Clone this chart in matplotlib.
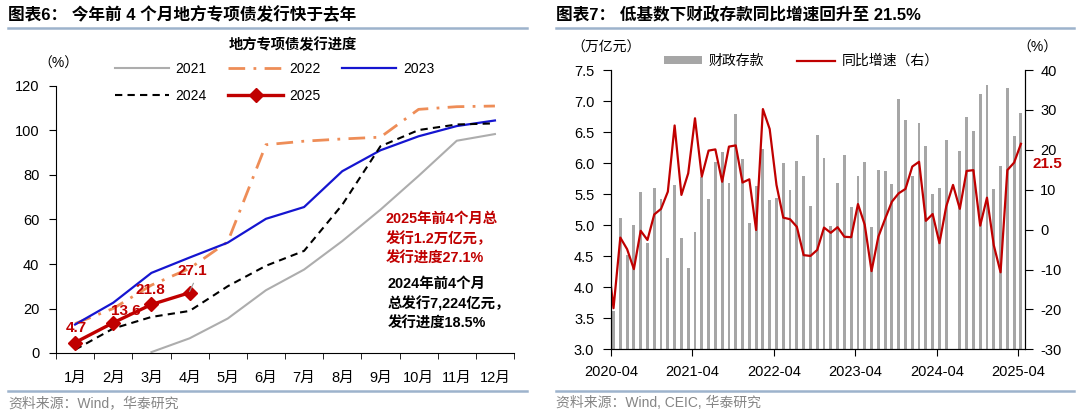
import numpy as np
import matplotlib
matplotlib.use("Agg")
import matplotlib.pyplot as plt

plt.rcParams['font.family'] = ['Liberation Sans', 'Noto Sans CJK SC', 'DejaVu Sans']
plt.rcParams['axes.unicode_minus'] = False

# ---- left chart: 地方专项债发行进度 (%)
months = ['1月', '2月', '3月', '4月', '5月', '6月', '7月', '8月', '9月', '10月', '11月', '12月']
y2021 = [np.nan, np.nan, 0.4, 6.6, 15.5, 28.2, 37.5, 50.3, 64.4, 79.6, 95.4, 98.4]
y2022 = [13.2, 20.0, 30.5, 38.0, 50.0, 93.6, 95.2, 96.2, 97.0, 109.5, 110.7, 111.0]
y2023 = [12.8, 22.6, 36.0, 42.9, 49.6, 60.3, 65.6, 81.7, 91.1, 97.4, 102.0, 104.5]
y2024 = [1.5, 11.0, 16.2, 18.9, 30.0, 39.2, 45.9, 66.6, 92.9, 100.2, 102.7, 103.2]
y2025 = [4.7, 13.6, 21.8, 27.1]
lbl_off = [(1, 10.5), (9, 8.5), (-1, 10.5), (2, 15.5)]

# ---- right chart: 财政存款 (万亿元) & 同比增速 (%), 2020-04 .. 2025-04
deposits = [3.62, 5.12, 4.52, 5.00, 5.54, 4.72, 5.60, 5.42, 4.47, 5.65, 4.80, 4.31,
            4.89, 5.78, 5.42, 6.01, 6.18, 5.68, 6.79, 6.07, 5.03, 5.63, 6.23, 5.40,
            5.43, 6.00, 5.56, 6.04, 5.79, 5.31, 6.45, 6.08, 4.99, 5.68, 6.13, 5.29,
            5.79, 6.02, 4.97, 5.89, 5.88, 5.66, 7.03, 6.69, 5.79, 6.64, 6.27, 5.50,
            5.60, 6.37, np.nan, 6.19, 6.74, 6.51, 7.11, 7.26, 5.58, 5.95, 7.21, 6.44,
            6.80]
# growth starts one month earlier (2020-03), that point sits left of the axis
growth = [-5.0,
          -19.7, -2.0, -4.9, -9.9, -0.3, -2.6, 3.8, 5.2, 9.5, 26.1, 8.7, 14.1,
          27.9, 13.3, 19.8, 20.1, 12.0, 20.8, 21.1, 11.8, 12.6, -0.1, 30.2, 25.2,
          11.2, 3.0, 2.6, 0.7, -6.4, -6.6, -5.1, 0.5, -0.8, 0.6, -1.8, -1.9,
          6.4, 1.2, -10.4, -1.8, 2.7, 7.0, 9.1, 10.2, 15.8, 17.0, 2.2, 3.9,
          -3.4, 5.8, 11.2, 5.2, 14.7, 14.9, 1.0, 8.0, -3.9, -10.7, 14.9, 16.8,
          21.5]
date_labels = ['2020-04', '2021-04', '2022-04', '2023-04', '2024-04', '2025-04']

fig = plt.figure(figsize=(10.8, 4.12), dpi=100)

sep = '#9DB3CC'
red = '#C00000'
fs = 10.5

# titles, separators, sources
fig.text(8 / 1080, 1 - 15 / 412, '图表6： 今年前 4 个月地方专项债发行快于去年',
         fontsize=12, fontweight='bold', va='center', ha='left')
fig.text(556 / 1080, 1 - 15 / 412, '图表7： 低基数下财政存款同比增速回升至 21.5%',
         fontsize=12, fontweight='bold', va='center', ha='left')
for x0, x1 in [(8, 527), (556, 1074)]:
    for yy in (28, 391):
        fig.add_artist(plt.Line2D([x0 / 1080, x1 / 1080], [1 - yy / 412] * 2,
                                  color=sep, lw=1.8))
fig.text(8 / 1080, 1 - 403 / 412, '资料来源：Wind，华泰研究', fontsize=10,
         color='#858585', va='center')
fig.text(556 / 1080, 1 - 403 / 412, '资料来源：Wind, CEIC, 华泰研究', fontsize=10,
         color='#858585', va='center')

# ---------------- left chart ----------------
ax = fig.add_axes([56 / 1080, 59 / 412, 458 / 1080, 267 / 412])
x = np.arange(1, 13)
ax.plot(x, y2021, color='#ADADAD', lw=1.5, label='2021')
ax.plot(x, y2022, color='#EE8D57', lw=2.0, dashes=(6, 3, 1, 3), label='2022')
ax.plot(x, y2023, color='#1515D0', lw=1.6, label='2023')
ax.plot(x, y2024, color='black', lw=1.5, dashes=(3.5, 2.5), label='2024')
ax.plot(x[:len(y2025)], y2025, color=red, lw=2.4, marker='D', ms=7, label='2025')
for i, (v, off) in enumerate(zip(y2025, lbl_off)):
    ax.annotate(f'{v}', (x[i], v), xytext=off, textcoords='offset points',
                ha='center', va='center', color=red, fontsize=11, fontweight='bold')
ax.plot([x[3], x[3] + 0.1], [y2025[3] + 0.6, y2025[3] + 4.2], color='#999999', lw=0.8)

ax.set_xlim(0.5, 12.5)
ax.set_ylim(0, 120)
ax.set_yticks(range(0, 121, 20))
ax.set_xticks(x)
ax.set_xticklabels(months)
ax.set_xticks(np.arange(0.5, 12.6, 1), minor=True)
ax.tick_params(axis='x', which='major', length=0, pad=13, labelsize=fs)
ax.tick_params(axis='x', which='minor', length=4, direction='out')
ax.tick_params(axis='y', length=5, direction='out', pad=7, labelsize=fs)
for s in ('top', 'right'):
    ax.spines[s].set_visible(False)

fig.text(293 / 1080, 1 - 45 / 412, '地方专项债发行进度', fontsize=10.3,
         fontweight='bold', ha='center', va='center')
fig.text(58 / 1080, 1 - 64 / 412, '（%）', fontsize=10, ha='center', va='center')

h, l = ax.get_legend_handles_labels()
order = [0, 3, 1, 4, 2]
fig.legend([h[i] for i in order], [l[i] for i in order], ncol=3,
           loc='upper left', bbox_to_anchor=(115 / 1080, 1 - 62 / 412),
           frameon=False, fontsize=10, handlelength=3.9, handletextpad=0.47,
           columnspacing=1.55, labelspacing=0.95, borderpad=0, borderaxespad=0)

ax.text(386 / 1080, 1 - 212 / 412,
        '2025年前4个月总\n发行1.2万亿元，\n发行进度27.1%',
        transform=fig.transFigure, color=red, fontsize=10.4, fontweight='bold',
        va='top', ha='left', linespacing=1.45)
ax.text(388 / 1080, 1 - 277 / 412,
        '2024年前4个月\n总发行7,224亿元，\n发行进度18.5%',
        transform=fig.transFigure, color='black', fontsize=10.4, fontweight='bold',
        va='top', ha='left', linespacing=1.45)

# ---------------- right chart ----------------
bx = fig.add_axes([611 / 1080, 62.7 / 412, 414 / 1080, 279.3 / 412])
idx = np.arange(len(deposits))
bx.bar(idx, deposits, width=0.42, color='#A6A6A6', label='财政存款')
bx.set_ylim(3.0, 7.5)
bx.set_yticks(np.arange(3.0, 7.51, 0.5))
bx.set_yticklabels([f'{v:.1f}' for v in np.arange(3.0, 7.51, 0.5)])
bx.set_xlim(-0.37, 60.6)
bx.set_xticks(np.arange(0, 61, 12) - 0.37)
bx.set_xticklabels(date_labels)
bx.tick_params(axis='x', length=5, pad=6, labelsize=fs)
bx.tick_params(axis='y', length=6, pad=6, labelsize=fs)
bx.spines['top'].set_visible(False)

cx = bx.twinx()
cx.plot(np.arange(-1, len(growth) - 1), growth, color=red, lw=1.6, label='同比增速（右）')
cx.set_ylim(-30, 40)
cx.set_yticks(range(-30, 41, 10))
cx.tick_params(axis='y', length=6, pad=5, labelsize=fs)
cx.spines['top'].set_visible(False)
cx.annotate('21.5', (60, growth[-1]), xytext=(8, -14.5), textcoords='offset points',
            ha='left', va='center', color=red, fontsize=11, fontweight='bold',
            annotation_clip=False)

fig.text(606 / 1080, 1 - 48 / 412, '（万亿元）', fontsize=10, ha='center', va='center')
fig.text(1037 / 1080, 1 - 48 / 412, '（%）', fontsize=10, ha='center', va='center')

hb, lb = bx.get_legend_handles_labels()
hc, lc = cx.get_legend_handles_labels()
fig.legend(hb + hc, lb + lc, ncol=2, loc='upper left',
           bbox_to_anchor=(664 / 1080, 1 - 54 / 412), frameon=False, fontsize=10,
           handlelength=2.7, handleheight=0.5, handletextpad=0.5, columnspacing=2.4,
           borderpad=0, borderaxespad=0)

fig.savefig('out.png', dpi=100)
